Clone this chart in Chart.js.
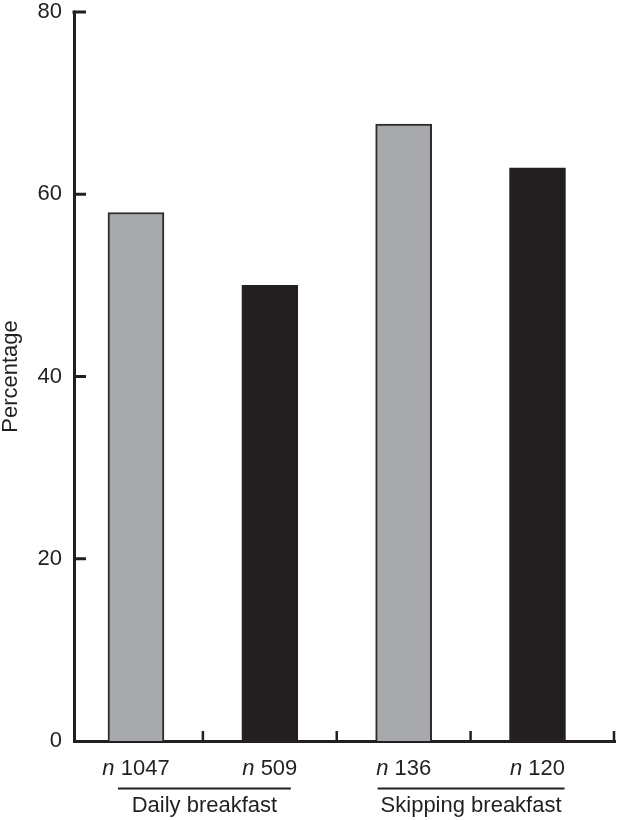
<!DOCTYPE html>
<html><head><meta charset="utf-8">
<script src="https://cdn.jsdelivr.net/npm/chart.js@4"></script>
<style>html,body{margin:0;padding:0;background:#fff}#wrap{width:617px;height:820px;position:relative}</style>
</head><body><div id="wrap"><canvas id="c" width="617" height="820"></canvas></div>
<script>
// ---- data ----
const sampleSizes = [1047, 509, 136, 120];
const percentages = [58, 50, 67.7, 62.9];
const barPositions = [0, 1, 2, 3];
const groupLabels = ['Daily breakfast', 'Skipping breakfast'];
const groupMembers = [[0, 1], [2, 3]];
const yTickValues = [0, 20, 40, 60, 80];
const xTickValues = [0.5, 1.5, 2.5];

// ---- style ----
const INK = '#231f20';
const GRAY = '#a7a9ac';
const FONT = "'Liberation Sans', Arial, sans-serif";
const FS = 22;
const barFill = [GRAY, INK, GRAY, INK];
const barEdge = ['#2e2c2d', INK, '#2e2c2d', INK];
const groupOverhang = [[18, 21], [26, 27]];

const annotate = {
  id: 'annotate',
  afterDraw(chart) {
    const ctx = chart.ctx;
    const xs = chart.scales.x, ys = chart.scales.y;
    const axisX = xs.left, axisY = ys.bottom;
    ctx.save();
    ctx.strokeStyle = INK;
    ctx.lineCap = 'butt';
    // inward y ticks
    ctx.lineWidth = 3;
    yTickValues.filter(v => v > 0).forEach(v => {
      const y = ys.getPixelForValue(v);
      ctx.beginPath(); ctx.moveTo(axisX, y); ctx.lineTo(axisX + 12, y); ctx.stroke();
    });
    // extend y axis line to cover the top tick
    ctx.beginPath(); ctx.moveTo(axisX, ys.top - 1.5); ctx.lineTo(axisX, ys.top + 2); ctx.stroke();
    // inward x ticks
    ctx.lineWidth = 2.5;
    xTickValues.concat([xs.max]).forEach(v => {
      let x = xs.getPixelForValue(v);
      if (v === xs.max) x -= 1;
      ctx.beginPath(); ctx.moveTo(x, axisY); ctx.lineTo(x, axisY - 10); ctx.stroke();
    });
    // n labels
    ctx.fillStyle = INK;
    ctx.textBaseline = 'alphabetic';
    ctx.textAlign = 'left';
    const italic = 'italic ' + FS + 'px ' + FONT, regular = FS + 'px ' + FONT;
    barPositions.forEach((p, i) => {
      const cx = xs.getPixelForValue(p);
      ctx.font = italic; const wn = ctx.measureText('n').width;
      ctx.font = regular; const rest = ' ' + sampleSizes[i]; const wr = ctx.measureText(rest).width;
      const x0 = cx - (wn + wr) / 2;
      ctx.font = italic; ctx.fillText('n', x0, 775);
      ctx.font = regular; ctx.fillText(rest, x0 + wn, 775);
    });
    // group lines + labels
    groupLabels.forEach((g, k) => {
      const [a, b] = groupMembers[k];
      const l = xs.getPixelForValue(barPositions[a]) - groupOverhang[k][0];
      const r = xs.getPixelForValue(barPositions[b]) + groupOverhang[k][1];
      ctx.lineWidth = 2;
      ctx.beginPath(); ctx.moveTo(l, 788.5); ctx.lineTo(r, 788.5); ctx.stroke();
      ctx.font = regular; ctx.textAlign = 'center';
      ctx.fillText(g, (l + r) / 2, 812);
      ctx.textAlign = 'left';
    });
    ctx.restore();
  }
};

new Chart(document.getElementById('c'), {
  type: 'bar',
  data: {
    datasets: [{
      data: barPositions.map((x, i) => ({ x: x, y: percentages[i] })),
      backgroundColor: barFill,
      borderColor: barEdge,
      borderWidth: 2,
      barThickness: 56
    }]
  },
  options: {
    responsive: false,
    animation: false,
    devicePixelRatio: 1,
    layout: { padding: { top: 12, right: 2, left: 0, bottom: 0 } },
    plugins: { legend: { display: false }, tooltip: { enabled: false } },
    scales: {
      x: {
        type: 'linear',
        offset: false,
        min: -0.463, max: 3.579,
        grid: { display: false, drawTicks: false, offset: false },
        border: { display: true, width: 3, color: INK },
        ticks: { display: false },
        afterFit(s) { s.height = 79; s.paddingLeft = 0; s.paddingRight = 0; }
      },
      y: {
        min: 0, max: 80,
        afterBuildTicks(s) { s.ticks = yTickValues.map(v => ({ value: v })); },
        grid: { display: false, drawTicks: false },
        border: { display: true, width: 3, color: INK },
        ticks: { color: INK, padding: 12, font: { family: FONT, size: FS, lineHeight: 1 } },
        title: { display: true, text: 'Percentage', color: INK, padding: 0,
                 font: { family: FONT, size: FS, lineHeight: 1 } },
        afterFit(s) { s.width = 74; s.paddingTop = 0; s.paddingBottom = 0; }
      }
    }
  },
  plugins: [annotate]
});
</script></body></html>
